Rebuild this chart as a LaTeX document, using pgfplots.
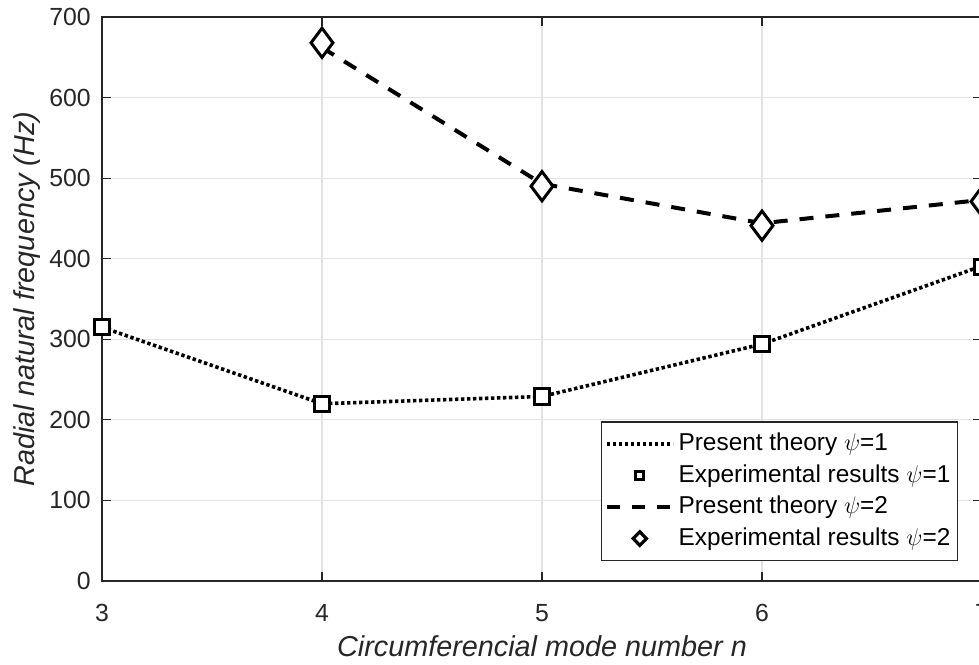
\documentclass[border=0pt]{standalone}
\usepackage{fontspec}
\setmainfont{Liberation Sans}
\usepackage{pgfplots}
\pgfplotsset{compat=1.18}
\definecolor{axgray}{RGB}{38,38,38}
\definecolor{gridgray}{RGB}{226,226,226}

\begin{document}
\fontsize{12.4}{15}\selectfont
\begin{tikzpicture}
\begin{axis}[
  scale only axis, width=440pt, height=282pt,
  xmin=3, xmax=7, ymin=0, ymax=700,
  xtick={3,4,5,6,7}, ytick={0,100,...,700},
  grid=major, major grid style={gridgray, line width=0.6pt},
  axis line style={axgray, line width=0.6pt},
  tick style={axgray, line width=0.6pt},
  tick align=inside, major tick length=4.5pt,
  ticklabel style={font=\fontsize{12.4}{15}\selectfont, text=axgray},
  xticklabel style={anchor=base, yshift=-20.3pt},
  yticklabel style={xshift=-1.3pt},
  /pgf/number format/assume math mode=true,
  xlabel={\itshape Circumferencial mode number n},
  ylabel={\itshape Radial natural frequency (Hz)},
  label style={font=\fontsize{14.4}{16}\selectfont, text=axgray},
  xlabel style={at={(axis description cs:0.5,0)}, anchor=base, yshift=-38pt},
  ylabel style={at={(axis description cs:-0.0847,0.5)}, anchor=center},
  legend cell align=left,
  legend style={at={(rel axis cs:0.9727,0.0355)}, anchor=south east,
    draw=axgray, line width=0.6pt, fill=white,
    font=\fontsize{12.2}{14}\selectfont, inner xsep=1.5pt, inner ysep=3pt,
    nodes={inner xsep=2pt, inner ysep=2.55pt}},
]
% theory, psi = 1
\addplot[black, line width=1.8pt, dash pattern=on 1.7pt off 1.3pt,
  legend image code/.code={\draw[black, line width=1.8pt, dash pattern=on 1.7pt off 1.3pt] (0pt,0pt) -- (33pt,0pt);}]
  coordinates {(3,315) (4,220) (5,229) (6,294) (7,391)};
\addlegendentry{Present theory $\psi$=1}
% experiment, psi = 1
\addplot[only marks, mark=square*, mark size=3.8pt,
  mark options={draw=black, fill=white, line width=1.5pt, solid},
  legend image code/.code={\draw[mark=square*, mark size=2pt, mark options={draw=black, fill=white, line width=1.5pt}] plot coordinates {(16.5pt,0pt)};}]
  coordinates {(3,315) (4,220) (5,229) (6,294) (7,390)};
\addlegendentry{Experimental results $\psi$=1}
% theory, psi = 2
\addplot[black, line width=2pt, dash pattern=on 7pt off 6pt,
  legend image code/.code={\draw[black, line width=2pt, dash pattern=on 6.5pt off 6pt] (0pt,0pt) -- (32pt,0pt);}]
  coordinates {(4,662) (5,493) (6,444) (7,473)};
\addlegendentry{Present theory $\psi$=2}
% experiment, psi = 2
\addplot[only marks, mark=diamond*, mark size=7.3pt,
  mark options={draw=black, fill=white, line width=1.5pt, solid},
  legend image code/.code={\draw[mark=diamond*, mark size=3.4pt, mark options={draw=black, fill=white, line width=1.6pt, xscale=1.3}] plot coordinates {(16.5pt,0pt)};}]
  coordinates {(4,668) (5,490) (6,441) (7,471)};
\addlegendentry{Experimental results $\psi$=2}

\coordinate (LL) at (rel axis cs:0,0);
\coordinate (UR) at (rel axis cs:1,1);
\end{axis}
\pgfresetboundingbox
\path[use as bounding box] ([xshift=-51pt,yshift=-42pt]LL) rectangle ([xshift=-1.5pt,yshift=8.5pt]UR);
\end{tikzpicture}
\end{document}
